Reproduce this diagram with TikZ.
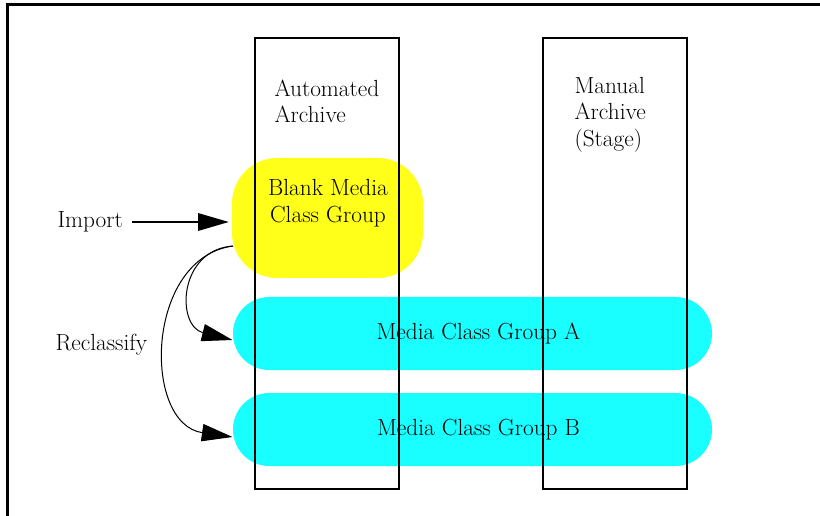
\documentclass[tikz,border=0pt]{standalone}
\usetikzlibrary{arrows.meta}

\definecolor{blankyellow}{RGB}{255,255,25}
\definecolor{groupcyan}{RGB}{25,255,255}

\tikzset{every picture/.style={line width=0.75pt}}
\tikzset{
  txt/.style={inner sep=0.75pt, align=left, font=\fontsize{17.5}{20}\selectfont},
  yellowblob/.style={fill=blankyellow, minimum width=143.25pt, minimum height=90pt, rounded corners=34pt, inner sep=0pt},
  cyanblob/.style={fill=groupcyan, minimum width=359.25pt, minimum height=54.75pt, rounded corners=27.3pt, inner sep=0pt, font=\fontsize{17.5}{20}\selectfont},
  archive/.style={line width=1.5pt},
  bigtip/.style={-{Triangle[length=23pt,width=13pt]}},
}

\begin{document}
\begin{tikzpicture}[x=0.75pt,y=0.75pt,yscale=-1,xscale=1]
\useasboundingbox (0,0) rectangle (820,516);

% outer frame
\draw [line width=2.25pt] (7,516) -- (7,5) -- (820,5);

% media class groups
\node [yellowblob] (blank) at (327.5,218) {};
\node [cyanblob] (grpA) at (472.5,333.5) {\hspace{9pt}Media Class Group A};
\node [cyanblob] (grpB) at (472.5,429.5) {\hspace{9pt}Media Class Group B};

% archives
\draw [archive] (255,38) rectangle (399,489);
\draw [archive] (543,38) rectangle (687,489);
\node [txt, anchor=west] (auto) at (273,101.5) {Automated\\Archive};
\node [txt, anchor=west] (manual) at (573,114.5) {Manual\\Archive\\(Stage)};
\node [txt, align=center] (blanktxt) at (328,203.5) {Blank Media\\Class Group};

% import
\node [txt, anchor=west] (import) at (56,222) {Import};
\draw [bigtip, line width=1.5pt, shorten <=6pt, shorten >=2pt] (import.east) -- (import.east -| blank.west);

% reclassify
\node [txt, anchor=west] (reclass) at (54,345) {Reclassify};
\coordinate (reclsrc) at (233,246);
\draw [bigtip] (reclsrc) .. controls (178,250) and (176,326) .. (grpA.west |- 0,340);
\draw [bigtip] (reclsrc) .. controls (145,258) and (142,424) .. (grpB.west |- 0,437);

\end{tikzpicture}
\end{document}
